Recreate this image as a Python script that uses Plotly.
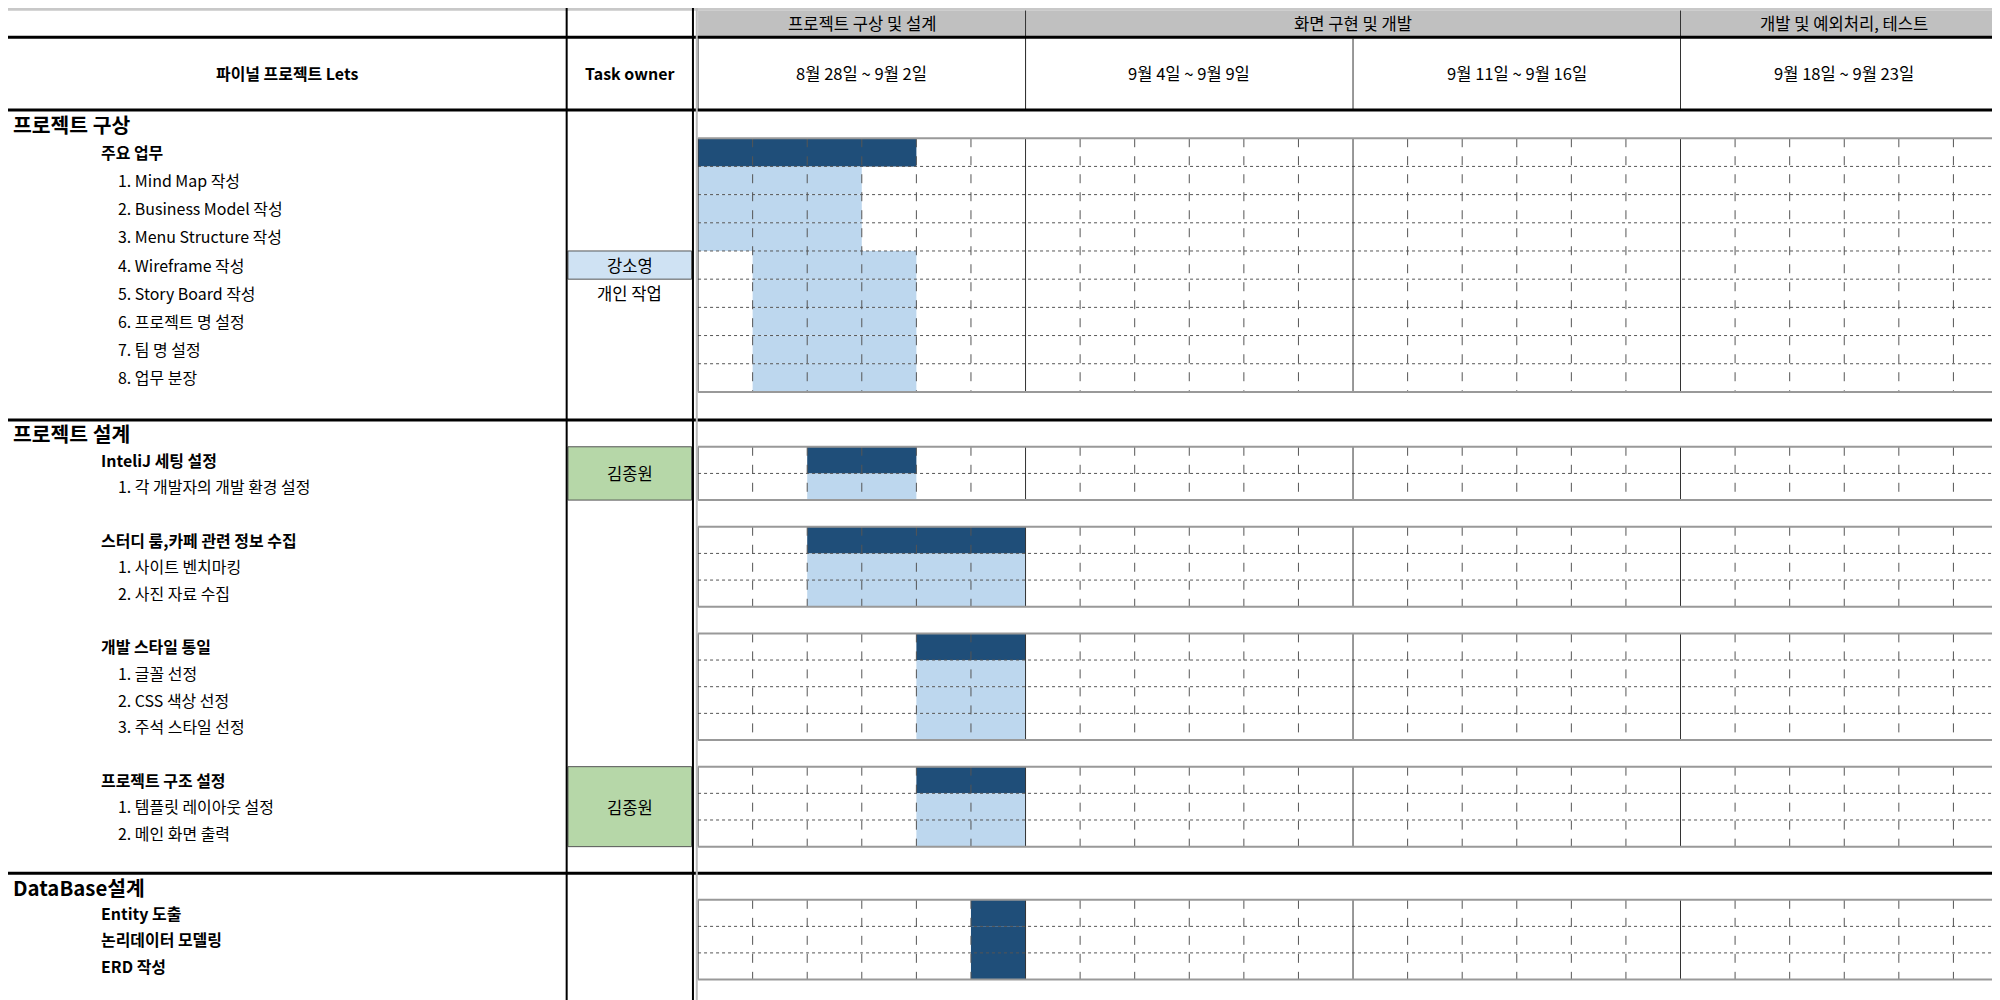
import plotly.graph_objects as go

# ── Data ─────────────────────────────────────────────────────────────────
title = '파이널 프로젝트 Lets'
phases = ['프로젝트 구상 및 설계', '화면 구현 및 개발', '개발 및 예외처리, 테스트']
phase_weeks = [1, 2, 1]
weeks = ['8월 28일 ~ 9월 2일', '9월 4일 ~ 9월 9일', '9월 11일 ~ 9월 16일', '9월 18일 ~ 9월 23일']

# (row, level, label)  level 0 = section, 1 = group, 2 = task
rows_text = [
    (0, 0, '프로젝트 구상'), (1, 1, '주요 업무'),
    (2, 2, '1. Mind Map 작성'), (3, 2, '2. Business Model 작성'), (4, 2, '3. Menu Structure 작성'),
    (5, 2, '4. Wireframe 작성'), (6, 2, '5. Story Board 작성'), (7, 2, '6. 프로젝트 명 설정'),
    (8, 2, '7. 팀 명 설정'), (9, 2, '8. 업무 분장'),
    (11, 0, '프로젝트 설계'), (12, 1, 'InteliJ 세팅 설정'), (13, 2, '1. 각 개발자의 개발 환경 설정'),
    (15, 1, '스터디 룸,카페 관련 정보 수집'), (16, 2, '1. 사이트 벤치마킹'), (17, 2, '2. 사진 자료 수집'),
    (19, 1, '개발 스타일 통일'), (20, 2, '1. 글꼴 선정'), (21, 2, '2. CSS 색상 선정'), (22, 2, '3. 주석 스타일 선정'),
    (24, 1, '프로젝트 구조 설정'), (25, 2, '1. 템플릿 레이아웃 설정'), (26, 2, '2. 메인 화면 출력'),
    (28, 0, 'DataBase설계'), (29, 1, 'Entity 도출'), (30, 1, '논리데이터 모델링'), (31, 1, 'ERD 작성'),
]
# grid blocks: (first row, last row)
blocks = [(1, 9), (12, 13), (15, 17), (19, 22), (24, 26), (29, 31)]
# bars: (row, start day, end day inclusive, kind)
bars = [
    (1, 0, 3, 'dark'), (2, 0, 2, 'light'), (3, 0, 2, 'light'), (4, 0, 2, 'light'),
    (5, 1, 3, 'light'), (6, 1, 3, 'light'), (7, 1, 3, 'light'), (8, 1, 3, 'light'), (9, 1, 3, 'light'),
    (12, 2, 3, 'dark'), (13, 2, 3, 'light'),
    (15, 2, 5, 'dark'), (16, 2, 5, 'light'), (17, 2, 5, 'light'),
    (19, 4, 5, 'dark'), (20, 4, 5, 'light'), (21, 4, 5, 'light'), (22, 4, 5, 'light'),
    (24, 4, 5, 'dark'), (25, 4, 5, 'light'), (26, 4, 5, 'light'),
    (29, 5, 5, 'dark'), (30, 5, 5, 'dark'), (31, 5, 5, 'dark'),
]
# owners: (first row, last row, name, fill)
owners = [(5, 5, '강소영', '#cfe2f3'), (6, 6, '개인 작업', None),
          (12, 13, '김종원', '#b6d7a8'), (24, 26, '김종원', '#b6d7a8')]
sections = [(0, 10), (11, 27), (28, 32)]

# ── Geometry (sheet units, page is 1568 x 784 units) ─────────────────────
W, H = 1568, 784
X_TASK, X_OWN, X_G0, X_G1 = 438, 537, 541, 1568
NDAYS = 24
CW = (X_G1 - X_G0) / NDAYS
row_h = [22.1] * 11 + [20.9] * 17 + [20.8] * 5
row_top = [80.0]
for h in row_h:
    row_top.append(row_top[-1] + h)
Y_END = row_top[-1]
DARK, LIGHT = '#1f4e79', '#bdd7ee'
FONT = 'Noto Sans CJK KR'
FS = 2000 / 1568  # font scale

def dx(d):
    return X_G0 + d * CW

fig = go.Figure()
shapes, ann = [], []

def rect(x0, y0, x1, y1, fill, lw=0, lc='black'):
    shapes.append(dict(type='rect', x0=x0, y0=y0, x1=x1, y1=y1, fillcolor=fill,
                       line=dict(width=lw, color=lc), layer='below'))

def line(x0, y0, x1, y1, w=1, c='black', dash='solid'):
    shapes.append(dict(type='line', x0=x0, y0=y0, x1=x1, y1=y1, line=dict(width=w, color=c, dash=dash)))

# header
line(0, 1, X_G1, 1, 3, '#c8c8c8')
rect(X_G0, 2, X_G1, 22, '#c0c0c0')
x = X_G0
for p, n in zip(phases, phase_weeks):
    ann.append(dict(x=x + n * 6 * CW / 2, y=12, text=p, font=dict(size=13)))
    x += n * 6 * CW
    line(x, 2, x, 80, 1, '#333')
for i, w in enumerate(weeks):
    ann.append(dict(x=dx(6 * i + 3), y=51, text=w, font=dict(size=13)))
    line(dx(6 * i), 24, dx(6 * i), 80, 1, '#333')
ann.append(dict(x=X_TASK / 2, y=51, text='<b>' + title + '</b>', font=dict(size=12.5)))
ann.append(dict(x=(X_TASK + X_OWN) / 2, y=51, text='<b>Task owner</b>', font=dict(size=12.5)))
line(0, 23, X_G1, 23, 3, 'black')

# bars
for r, s, e, k in bars:
    rect(dx(s), row_top[r], dx(e + 1), row_top[r + 1], DARK if k == 'dark' else LIGHT)

# grid blocks
for a, b in blocks:
    for r in range(a + 1, b + 1):
        line(X_G0, row_top[r], X_G1, row_top[r], 1, '#555', 'dot')
    for d in range(NDAYS + 1):
        solid = d % 6 == 0
        line(dx(d), row_top[a], dx(d), row_top[b + 1], 1, '#333' if solid else '#555', 'solid' if solid else 'dash')
    line(X_G0, row_top[a], X_G1, row_top[a], 2, '#999')
    line(X_G0, row_top[b + 1], X_G1, row_top[b + 1], 2, '#999')

# owners
for a, b, name, fill in owners:
    if fill:
        rect(X_TASK + 1, row_top[a], X_OWN - 1, row_top[b + 1], fill, 1, '#555')
    ann.append(dict(x=(X_TASK + X_OWN) / 2, y=(row_top[a] + row_top[b + 1]) / 2, text=name,
                    font=dict(size=13)))

# section borders
for a, b in sections:
    line(0, row_top[a], X_G1, row_top[a], 3, 'black')
line(0, Y_END, X_G1, Y_END, 3, 'black')
line(X_TASK, 0, X_TASK, Y_END, 2, 'black')
line(X_OWN, 0, X_OWN, Y_END, 2, 'black')
line(X_G0 - 1, 0, X_G0 - 1, Y_END, 2, '#bbb')

# task labels
for r, lvl, txt in rows_text:
    ym = (row_top[r] + row_top[r + 1]) / 2
    if lvl == 0:
        ann.append(dict(x=2, y=ym, text='<b>' + txt + '</b>', font=dict(size=16), xanchor='left'))
    elif lvl == 1:
        ann.append(dict(x=71, y=ym, text='<b>' + txt + '</b>', font=dict(size=12.5), xanchor='left'))
    else:
        ann.append(dict(x=85, y=ym, text=txt, font=dict(size=12.5), xanchor='left'))

for a in ann:
    a.setdefault('xanchor', 'center')
    a.update(showarrow=False, yanchor='middle', xref='x', yref='y')
    a['font'].update(family=FONT, color='black', size=a['font']['size'] * FS)

fig.add_trace(go.Scatter(x=[0, W], y=[0, H], mode='markers', marker=dict(opacity=0), hoverinfo='skip'))
fig.update_layout(
    width=2000, height=1000, margin=dict(l=0, r=0, t=0, b=0),
    plot_bgcolor='white', paper_bgcolor='white', showlegend=False,
    xaxis=dict(range=[0, W], visible=False, fixedrange=True),
    yaxis=dict(range=[H, 0], visible=False, fixedrange=True),
    shapes=shapes, annotations=ann,
)
fig.write_html('out.html')
